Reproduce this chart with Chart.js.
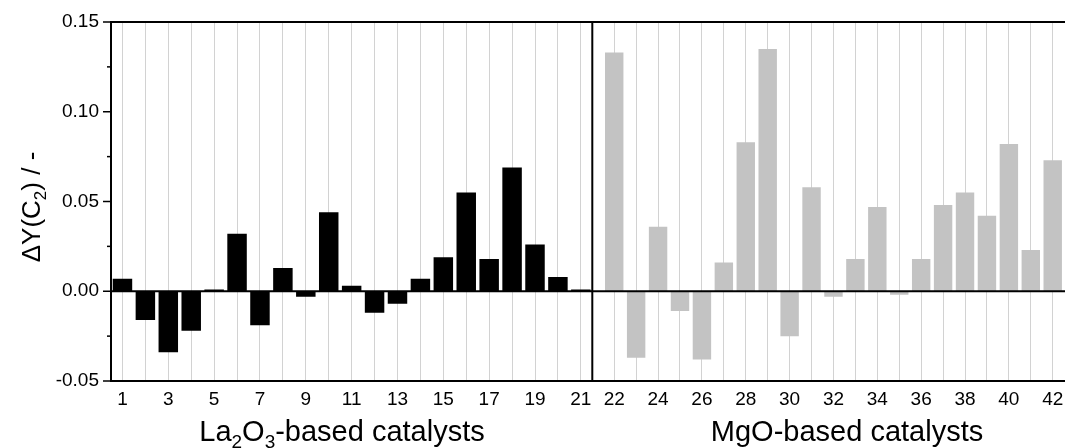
<!DOCTYPE html>
<html>
<head>
<meta charset="utf-8">
<script src="https://cdn.jsdelivr.net/npm/chart.js@4/dist/chart.umd.min.js"></script>
<style>
html,body{margin:0;padding:0;background:#fff;overflow:hidden}
#wrap{position:relative;width:1065px;height:448px}
</style>
</head>
<body>
<div id="wrap"><canvas id="c" width="1065" height="448"></canvas></div>
<script>
// ---- data ----
const laCatalysts = [1,2,3,4,5,6,7,8,9,10,11,12,13,14,15,16,17,18,19,20,21];
const laValues = [0.007,-0.016,-0.034,-0.022,0.001,0.032,-0.019,0.013,-0.003,0.044,0.003,-0.012,-0.007,0.007,0.019,0.055,0.018,0.069,0.026,0.008,0.001];
const mgoCatalysts = [22,23,24,25,26,27,28,29,30,31,32,33,34,35,36,37,38,39,40,41,42];
const mgoValues = [0.133,-0.037,0.036,-0.011,-0.038,0.016,0.083,0.135,-0.025,0.058,-0.003,0.018,0.047,-0.002,0.018,0.048,0.055,0.042,0.082,0.023,0.073];
const laTickLabels = [1,3,5,7,9,11,13,15,17,19,21];
const mgoTickLabels = [22,24,26,28,30,32,34,36,38,40,42];
const yTickLabels = [-0.05,0.00,0.05,0.10,0.15];
const yMinorTicks = [-0.025,0.025,0.075,0.125];
const yTitle = [{t:'\u0394Y(C'},{t:'2',sub:true},{t:') / -'}];
const laTitle = [{t:'La'},{t:'2',sub:true},{t:'O'},{t:'3',sub:true},{t:'-based catalysts'}];
const mgoTitle = [{t:'MgO-based catalysts'}];

const FONT = "'Liberation Sans', Arial, Helvetica, sans-serif";

function drawRich(ctx, segs, cx, baseY, size, subSize, subDy) {
  let w = 0;
  const widths = segs.map(s => {
    ctx.font = (s.sub ? subSize : size) + 'px ' + FONT;
    const m = ctx.measureText(s.t).width;
    w += m;
    return m;
  });
  let x = cx - w / 2;
  ctx.textBaseline = 'alphabetic';
  ctx.textAlign = 'left';
  segs.forEach((s, i) => {
    ctx.font = (s.sub ? subSize : size) + 'px ' + FONT;
    ctx.fillText(s.t, x, baseY + (s.sub ? subDy : 0));
    x += widths[i];
  });
}

const decorPlugin = {
  id: 'decor',
  afterDatasetsDraw(chart) {
    const ctx = chart.ctx;
    const area = chart.chartArea;
    const y = chart.scales.y;
    const x2 = chart.scales.x2;
    ctx.save();
    ctx.strokeStyle = '#000';
    ctx.lineWidth = 2;
    const y0 = y.getPixelForValue(0);
    ctx.beginPath(); ctx.moveTo(area.left, y0); ctx.lineTo(area.right, y0); ctx.stroke();
    ctx.beginPath(); ctx.moveTo(area.left - 1, area.top); ctx.lineTo(area.right, area.top); ctx.stroke();
    const xd = x2.getPixelForValue(x2.min);
    ctx.beginPath(); ctx.moveTo(xd, area.top); ctx.lineTo(xd, area.bottom); ctx.stroke();
    ctx.lineWidth = 1.5;
    y.ticks.forEach(t => {
      const py = y.getPixelForValue(t.value);
      const major = yTickLabels.some(v => Math.abs(v - t.value) < 1e-9);
      const len = major ? 8 : 4;
      ctx.beginPath(); ctx.moveTo(area.left - len, py); ctx.lineTo(area.left, py); ctx.stroke();
    });
    ctx.restore();
  },
  afterDraw(chart) {
    const ctx = chart.ctx;
    ctx.save();
    ctx.fillStyle = '#000';
    drawRich(ctx, laTitle, 342, 441, 29, 19, 7);
    drawRich(ctx, mgoTitle, 847, 441, 29, 19, 7);
    ctx.translate(40, 207);
    ctx.rotate(-Math.PI / 2);
    drawRich(ctx, yTitle, 0, 0, 26, 17, 6);
    ctx.restore();
  }
};

function xScale(min, max, weight, cats, labels) {
  return {
    type: 'linear',
    position: 'bottom',
    stack: 'xs',
    stackWeight: weight,
    offset: false,
    min: min,
    max: max,
    afterBuildTicks: s => { s.ticks = cats.map(v => ({value: v})); },
    afterFit: s => { s.height = 67; s.paddingLeft = 0; s.paddingRight = 0; },
    grid: { display: true, offset: false, color: '#d2d2d2', lineWidth: 1, drawTicks: false },
    border: { display: true, color: '#000', width: 2 },
    ticks: {
      autoSkip: false, maxRotation: 0, minRotation: 0, padding: 7,
      color: '#000', font: { family: FONT, size: 19 },
      callback: v => labels.includes(v) ? String(v) : ''
    }
  };
}

new Chart(document.getElementById('c'), {
  type: 'bar',
  data: {
    datasets: [
      {
        label: 'La2O3',
        xAxisID: 'x1', yAxisID: 'y',
        data: laCatalysts.map((c, i) => ({x: c, y: laValues[i]})),
        backgroundColor: '#000',
        borderWidth: 0,
        grouped: false,
        barPercentage: 0.85, categoryPercentage: 1
      },
      {
        label: 'MgO',
        xAxisID: 'x2', yAxisID: 'y',
        data: mgoCatalysts.map((c, i) => ({x: c, y: mgoValues[i]})),
        backgroundColor: '#c3c3c3',
        borderWidth: 0,
        grouped: false,
        barPercentage: 0.84, categoryPercentage: 1
      }
    ]
  },
  options: {
    responsive: false,
    animation: false,
    devicePixelRatio: 1,
    layout: { padding: { top: 22, right: 0, bottom: 0, left: 0 } },
    plugins: { legend: { display: false }, tooltip: { enabled: false } },
    scales: {
      x1: xScale(0.5, 21.5, 481.3, laCatalysts, laTickLabels),
      x2: xScale(21, 42.56, 472.7, mgoCatalysts, mgoTickLabels),
      y: {
        type: 'linear',
        position: 'left',
        min: -0.05, max: 0.15,
        afterBuildTicks: s => { s.ticks = yTickLabels.concat(yMinorTicks).sort((a, b) => a - b).map(v => ({value: v})); },
        afterFit: s => { s.width = 111; s.paddingTop = 0; s.paddingBottom = 0; },
        grid: { display: false, drawTicks: false },
        border: { display: true, color: '#000', width: 2 },
        ticks: {
          padding: 12, color: '#000', font: { family: FONT, size: 19 },
          callback: v => yTickLabels.some(t => Math.abs(t - v) < 1e-9) ? v.toFixed(2) : ''
        }
      }
    }
  },
  plugins: [decorPlugin]
});
</script>
</body>
</html>
